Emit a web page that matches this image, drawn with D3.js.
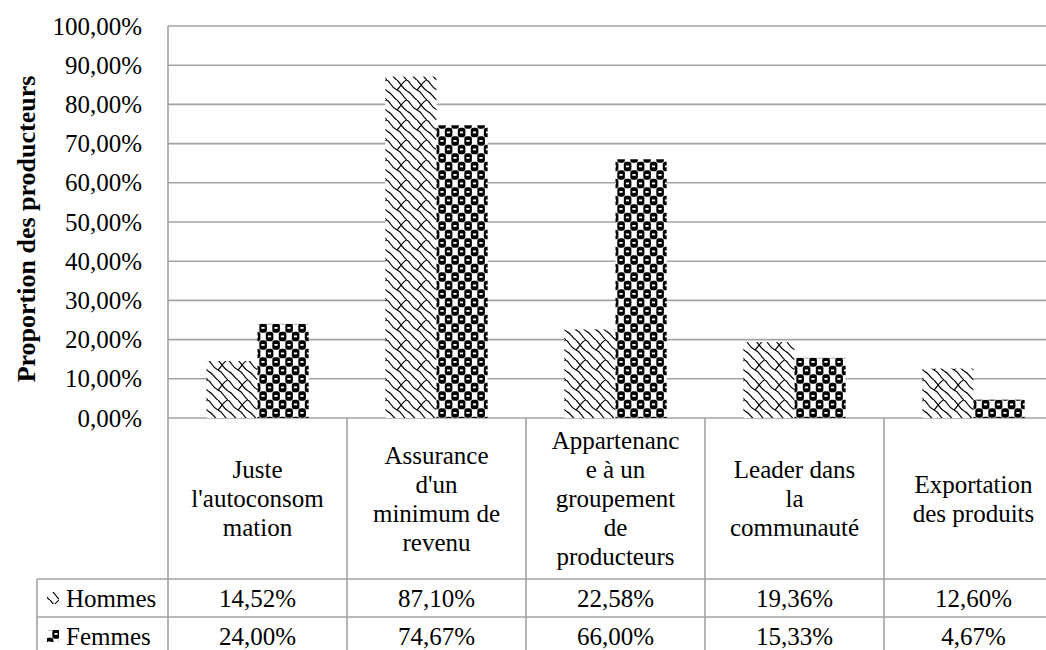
<!DOCTYPE html>
<html lang="fr">
<head>
<meta charset="utf-8">
<script src="https://cdn.jsdelivr.net/npm/d3@7"></script>
<style>
  html, body { margin: 0; padding: 0; background: #fff; }
  svg { display: block; font-family: "Liberation Serif", "Times New Roman", serif; }
</style>
</head>
<body>
<svg id="chart" width="1046" height="650"></svg>
<script>
// Motivations déclarées, par sexe (proportion des producteurs)
const categories = [
  "Juste l'autoconsommation",
  "Assurance d'un minimum de revenu",
  "Appartenance à un groupement de producteurs",
  "Leader dans la communauté",
  "Exportation des produits"
];
// Libellés tels qu'ils sont coupés dans les cellules du tableau
const categoryLines = [
  ["Juste", "l'autoconsom", "mation"],
  ["Assurance", "d'un", "minimum de", "revenu"],
  ["Appartenanc", "e à un", "groupement", "de", "producteurs"],
  ["Leader dans", "la", "communauté"],
  ["Exportation", "des produits"]
];
const seriesNames = ["Hommes", "Femmes"];
const hommes = [0.1452, 0.8710, 0.2258, 0.1936, 0.1260];
const femmes = [0.2400, 0.7467, 0.6600, 0.1533, 0.0467];
const yTicks = [0, 0.1, 0.2, 0.3, 0.4, 0.5, 0.6, 0.7, 0.8, 0.9, 1.0];
const yTitle = "Proportion des producteurs";

const fr = d3.formatLocale({ decimal: ",", thousands: " ", grouping: [3], currency: ["", " €"], percent: "%" });
const pct = fr.format(".2%");

const svg = d3.select("#chart");
const FONT = 25;
const SERIF = "Liberation Serif";
const GRID = "#a3a3a3";

// Geometry of the plot and of the data table below it
const plotLeft = 168, plotTop = 26, plotBottom = 418, colW = 179;
const tableLeft = 37, rowTop = 579, rowH = 38, tableBottom = rowTop + 2 * rowH;

const x = d3.scaleBand().domain(categories).range([plotLeft, plotLeft + colW * categories.length]).padding(0);
const xs = d3.scaleBand().domain(seriesNames).range([0, x.bandwidth()]).paddingInner(0).paddingOuter(0.75);
const y = d3.scaleLinear().domain([0, 1]).range([plotBottom, plotTop]);

// Fill patterns
const defs = svg.append("defs");
const pH = defs.append("pattern").attr("id", "pat-hommes")
  .attr("patternUnits", "userSpaceOnUse").attr("width", 20).attr("height", 20);
pH.append("rect").attr("width", 20).attr("height", 20).attr("fill", "#fff");
pH.append("path")
  .attr("d", "M-2,-1 C4,1 3,7 10,10 C16,12 15,18 22,21 M20,0 C16,1 14,6 10,10 M10,20 C6,18 5,13 0,11 M20,11 C16,9 14,4 10,0")
  .attr("fill", "none").attr("stroke", "#000").attr("stroke-width", 1.2);

// Checkered "sphere" fill: 13 px across, 17 px down
const PW = 13, PHt = 17;
const pF = defs.append("pattern").attr("id", "pat-femmes")
  .attr("patternUnits", "userSpaceOnUse").attr("width", PW).attr("height", PHt);
pF.append("rect").attr("width", PW).attr("height", PHt).attr("fill", "#fff");
[[-PW / 2, -PHt / 2], [PW / 2, -PHt / 2], [-PW / 2, PHt / 2], [PW / 2, PHt / 2], [0, 0]].forEach(([cx, cy]) => {
  pF.append("rect").attr("x", cx + 0.3).attr("y", cy + 0.3).attr("width", 7.6).attr("height", 9.4).attr("rx", 2.6).attr("fill", "#000");
  pF.append("rect").attr("x", cx + 2.4).attr("y", cy + 4).attr("width", 3.2).attr("height", 1.8).attr("fill", "#fff");
});
const fills = { Hommes: "url(#pat-hommes)", Femmes: "url(#pat-femmes)" };

// Horizontal gridlines
svg.append("g").selectAll("line").data(yTicks).join("line")
  .attr("x1", plotLeft).attr("x2", x.range()[1])
  .attr("y1", d => y(d)).attr("y2", d => y(d))
  .attr("stroke", GRID).attr("stroke-width", 1.6);

// Value axis labels
const yAxis = svg.append("g").attr("transform", `translate(${plotLeft},0)`)
  .call(d3.axisLeft(y).tickValues(yTicks).tickSize(0).tickPadding(26).tickFormat(pct));
yAxis.attr("font-family", SERIF).attr("font-size", FONT);
yAxis.select(".domain").remove();
yAxis.selectAll("text").attr("font-size", FONT).attr("font-family", SERIF).attr("fill", "#000");

// Axis title
svg.append("text")
  .attr("transform", `translate(35,229) rotate(-90)`)
  .attr("text-anchor", "middle").attr("font-family", SERIF)
  .attr("font-size", 26).attr("font-weight", "bold").attr("fill", "#000")
  .text(yTitle);

// Bars
const rows = categories.map((c, i) => ({ cat: c, Hommes: hommes[i], Femmes: femmes[i] }));
svg.append("g").selectAll("g").data(rows).join("g")
  .attr("transform", d => `translate(${x(d.cat)},0)`)
  .selectAll("rect").data(d => seriesNames.map(s => ({ s, v: d[s] }))).join("rect")
  .attr("x", d => xs(d.s)).attr("width", xs.bandwidth())
  .attr("y", d => y(d.v)).attr("height", d => y(0) - y(d.v))
  .attr("fill", d => fills[d.s]);

// Data table grid
const tbl = svg.append("g").attr("stroke", GRID).attr("stroke-width", 1.6);
tbl.append("line").attr("x1", plotLeft).attr("x2", plotLeft).attr("y1", plotTop).attr("y2", tableBottom);
categories.forEach(c => {
  tbl.append("line").attr("x1", x(c) + colW).attr("x2", x(c) + colW).attr("y1", plotBottom).attr("y2", tableBottom);
});
tbl.append("line").attr("x1", tableLeft).attr("x2", tableLeft).attr("y1", rowTop).attr("y2", tableBottom);
[rowTop, rowTop + rowH].forEach(ry => {
  tbl.append("line").attr("x1", tableLeft).attr("x2", x.range()[1]).attr("y1", ry).attr("y2", ry);
});

// Category labels
const lineH = 29;
const catMid = (plotBottom + rowTop) / 2;
categories.forEach((c, i) => {
  const lines = categoryLines[i];
  const t = svg.append("text").attr("text-anchor", "middle").attr("font-family", SERIF)
    .attr("font-size", FONT).attr("fill", "#000");
  lines.forEach((ln, k) => {
    t.append("tspan").attr("x", x(c) + colW / 2)
      .attr("y", catMid + (k - (lines.length - 1) / 2) * lineH)
      .attr("dominant-baseline", "central").text(ln);
  });
});

// Series rows: legend key, name and values
const seriesValues = { Hommes: hommes, Femmes: femmes };
seriesNames.forEach((s, r) => {
  const cy = rowTop + rowH * r + rowH / 2;
  svg.append("rect").attr("x", 47).attr("y", cy - 6).attr("width", 12).attr("height", 12).attr("fill", fills[s]);
  svg.append("text").attr("x", 66).attr("y", cy).attr("dominant-baseline", "central")
    .attr("font-family", SERIF).attr("font-size", FONT).attr("fill", "#000").text(s);
  categories.forEach((c, i) => {
    svg.append("text").attr("x", x(c) + colW / 2).attr("y", cy).attr("dominant-baseline", "central")
      .attr("text-anchor", "middle").attr("font-family", SERIF).attr("font-size", FONT).attr("fill", "#000")
      .text(pct(seriesValues[s][i]));
  });
});
</script>
</body>
</html>
